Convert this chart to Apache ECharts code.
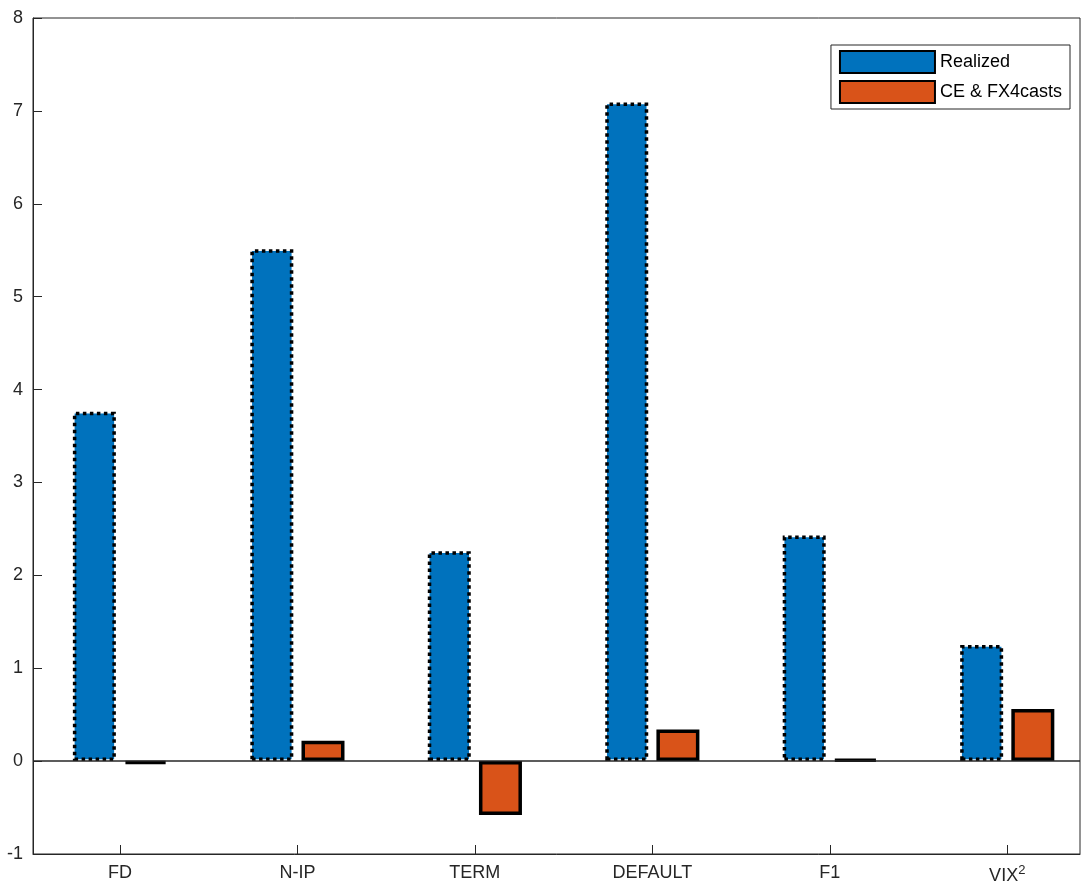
<!DOCTYPE html>
<html><head><meta charset="utf-8">
<script src="https://cdn.jsdelivr.net/npm/echarts@6/dist/echarts.min.js"></script>
<style>html,body{margin:0;padding:0;background:#fff}#c{width:1081px;height:888px}</style>
</head><body><div id="c"></div>
<script>
var categories = ['FD', 'N-IP', 'TERM', 'DEFAULT', 'F1', 'VIX2']
var realized = [3.76, 5.51, 2.26, 7.09, 2.43, 1.25]
var forecasts = [-0.03, 0.22, -0.58, 0.34, 0.02, 0.56]
var positions = [1, 2, 3, 4, 5, 6]

var chart = echarts.init(document.getElementById('c'))
var font = 'Liberation Sans, Arial, sans-serif'

function pairs(vals) {
    return vals.map(function (v, i) { return [positions[i], v] })
}

var option = {
    animation: false,
    textStyle: {fontFamily: font},
    grid: {left: 33, right: 1, top: 18, bottom: 34, show: true, borderColor: '#262626', borderWidth: 1, containLabel: false},
    legend: {
        right: 11, top: 45, orient: 'vertical', icon: 'rect', itemWidth: 95, itemHeight: 22, itemGap: 6,
        borderColor: '#262626', borderWidth: 1, padding: [5, 8, 5, 8], backgroundColor: '#fff',
        textStyle: {fontSize: 18, color: '#000', fontFamily: font},
        data: ['Realized', 'CE & FX4casts']
    },
    xAxis: {
        type: 'value', min: 0.51, max: 6.41,
        splitLine: {show: false},
        axisLine: {onZero: false, lineStyle: {color: '#262626'}},
        axisTick: {inside: true, length: 9, customValues: positions, lineStyle: {color: '#262626'}},
        axisLabel: {
            customValues: positions, fontSize: 18, color: '#262626', margin: 10,
            formatter: function (v) {
                var name = categories[Math.round(v) - 1]
                return name === 'VIX2' ? 'VIX{sup|2}' : name
            },
            rich: {sup: {fontSize: 13, verticalAlign: 'top', padding: [0, 0, 12, 0], color: '#262626'}}
        }
    },
    yAxis: {
        type: 'value', min: -1, max: 8, interval: 1,
        splitLine: {show: false},
        axisLine: {show: true, onZero: false, lineStyle: {color: '#262626'}},
        axisTick: {show: true, inside: true, length: 9, lineStyle: {color: '#262626'}},
        axisLabel: {fontSize: 18, color: '#262626', margin: 10}
    },
    series: [{
        name: 'Realized', type: 'bar', barWidth: 43, barGap: '19%',
        itemStyle: {color: '#0072BD', borderColor: '#000', borderWidth: 3.5, borderType: [3.5, 3.5]},
        data: pairs(realized),
        markLine: {silent: true, symbol: 'none', label: {show: false},
            lineStyle: {color: '#262626', width: 1.5, type: 'solid'}, data: [{yAxis: 0}]}
    }, {
        name: 'CE & FX4casts', type: 'bar', barWidth: 43,
        itemStyle: {color: '#D95319', borderColor: '#000', borderWidth: 3.5},
        data: pairs(forecasts)
    }]
}
chart.setOption(option)
</script></body></html>
